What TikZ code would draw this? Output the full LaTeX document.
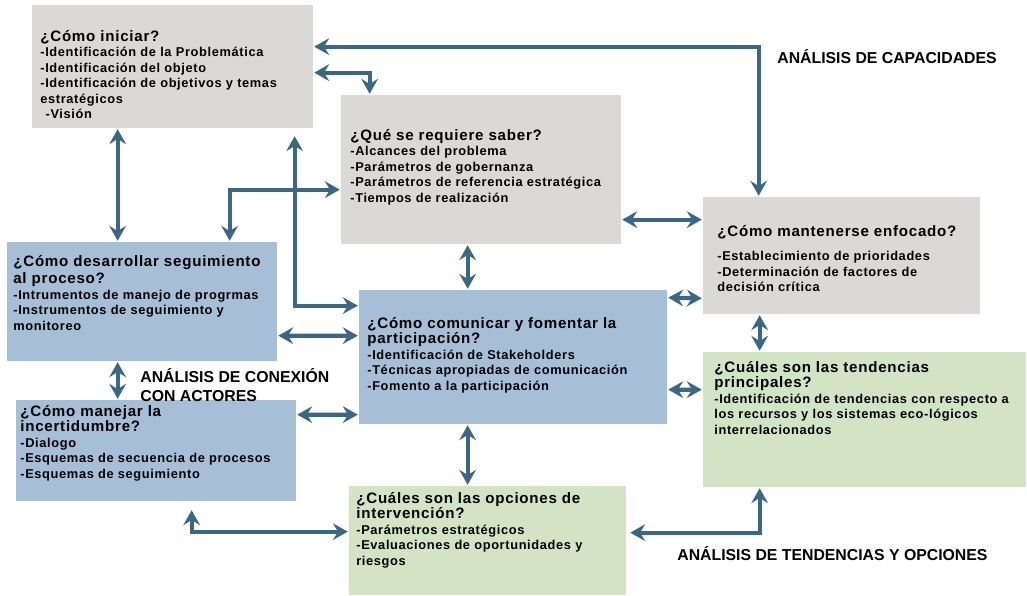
\documentclass[tikz,border=0pt]{standalone}
\usepackage{fontspec}
\setmainfont{Liberation Sans}
\newfontfamily\bodyfont[LetterSpace=5]{Liberation Sans}
\newfontfamily\titlefont[LetterSpace=5]{Liberation Sans}
\usetikzlibrary{arrows.meta,positioning,calc,fit}
\definecolor{boxgray}{HTML}{DAD9D6}
\definecolor{boxblue}{HTML}{A7BFD6}
\definecolor{boxgreen}{HTML}{D3E4C5}
\definecolor{linkblue}{HTML}{3A6783}
\newcommand{\ttl}[1]{{\titlefont\bfseries\fontsize{8.6}{9.2}\selectfont #1}}

\begin{document}
\begin{tikzpicture}[x=0.02cm,y=-0.02cm,
    >={Stealth[length=8.5pt,width=9.5pt,inset=3pt]},shorten >=0.5pt,shorten <=0.5pt,
    box/.style={rectangle,inner sep=0pt,draw=none},
    txt/.style={anchor=north west,align=left,inner sep=0pt,
        font=\bodyfont\bfseries\fontsize{7.3}{8.8}\selectfont},
    lbl/.style={inner sep=0pt,font=\bfseries\fontsize{9}{11}\selectfont},
    link/.style={<->,draw=linkblue,line width=2.4pt}]
  \useasboundingbox (0,0) rectangle (1027,595);

  % cajas
  \node[box,fill=boxgray,fit={(32,5) (313,128)}]     (ini) {};
  \node[box,fill=boxgray,fit={(341,95) (621,244)}]   (req) {};
  \node[box,fill=boxgray,fit={(703,197) (980,314)}]  (foc) {};
  \node[box,fill=boxblue,fit={(7,242) (277,361)}]    (seg) {};
  \node[box,fill=boxblue,fit={(359,290) (667,424)}]  (com) {};
  \node[box,fill=boxgreen,fit={(703,352) (1026,487)}] (ten) {};
  \node[box,fill=boxblue,fit={(16,400) (296,501)}]   (inc) {};
  \node[box,fill=boxgreen,fit={(349,486) (626,595)}] (opc) {};

  % textos
  \node[txt] (ini-t) at (40,30) {\ttl{¿Cómo iniciar?}\\
    -Identificación de la Problemática\\
    -Identificación del objeto\\
    -Identificación de objetivos y temas\\
    estratégicos\\
    \hspace{3pt}-Visión};
  \node[txt] (req-t) at (350,129) {\ttl{¿Qué se requiere saber?}\\
    -Alcances del problema\\
    -Parámetros de gobernanza\\
    -Parámetros de referencia estratégica\\
    -Tiempos de realización};
  \node[txt] (foc-t) at (717,225) {\ttl{¿Cómo mantenerse enfocado?}\\[5pt]
    -Establecimiento de prioridades\\
    -Determinación de factores de\\
    decisión crítica};
  \node[txt] (seg-t) at (13,255) {\ttl{¿Cómo desarrollar seguimiento}\\[1pt]
    \ttl{al proceso?}\\
    -Intrumentos de manejo de progrmas\\
    -Instrumentos de seguimiento y\\
    monitoreo};
  \node[txt] (com-t) at (367,317) {\ttl{¿Cómo comunicar y fomentar la}\\
    \ttl{participación?}\\
    -Identificación de Stakeholders\\
    -Técnicas apropiadas de comunicación\\
    -Fomento a la participación};
  \node[txt] (ten-t) at (714,361) {\ttl{¿Cuáles son las tendencias}\\
    \ttl{principales?}\\
    -Identificación de tendencias con respecto a\\
    los recursos y los sistemas eco-lógicos\\
    interrelacionados};
  \node[txt] (inc-t) at (20,405) {\ttl{¿Cómo manejar la}\\
    \ttl{incertidumbre?}\\
    -Dialogo\\
    -Esquemas de secuencia de procesos\\
    -Esquemas de seguimiento};
  \node[txt] (opc-t) at (356,492) {\ttl{¿Cuáles son las opciones de}\\
    \ttl{intervención?}\\
    -Parámetros estratégicos\\
    -Evaluaciones de oportunidades y\\
    riesgos};

  % etiquetas
  \node[lbl,anchor=west] (capac) at (777,57) {ANÁLISIS DE CAPACIDADES};
  \node[lbl,anchor=north west,align=left] (conex) at (140,368)
    {ANÁLISIS DE CONEXIÓN\\CON ACTORES};
  \node[lbl,anchor=west] (tendop) at (677,554) {ANÁLISIS DE TENDENCIAS Y OPCIONES};

  % conexiones
  \draw[link] ($(ini.north east)+(0,42)$) -| ($(foc.north west)+(56,0)$);
  \draw[link] ($(ini.north east)+(0,68)$) -| ($(req.north west)+(29,0)$);
  \draw[link] ($(ini.south west)+(86,0)$) -- ($(seg.north west)+(111,0)$);
  \draw[link] ($(ini.south west)+(263,7)$) |- ($(com.north west)+(0,16)$);
  \draw[link] ($(seg.north west)+(223,0)$) |- ($(req.north west)+(0,95)$);
  \draw[link] ($(req.north east)+(0,125)$) -- ($(foc.north west)+(0,23)$);
  \draw[link] ($(req.south west)+(127,0)$) -- ($(com.north west)+(109,0)$);
  \draw[link] ($(com.north east)+(0,8)$) -- ($(foc.south west)+(0,-16)$);
  \draw[link] ($(foc.south west)+(57,0)$) -- ($(ten.north west)+(57,0)$);
  \draw[link] ($(com.north east)+(0,100)$) -- ($(ten.north west)+(0,38)$);
  \draw[link] ($(seg.north east)+(0,94)$) -- ($(com.north west)+(0,46)$);
  \draw[link] ($(seg.south west)+(111,0)$) -- ($(inc.north west)+(102,0)$);
  \draw[link] ($(inc.north east)+(0,15)$) -- ($(com.north west)+(0,125)$);
  \draw[link] ($(inc.south west)+(176,8)$) |- ($(opc.north west)+(0,46)$);
  \draw[link] ($(com.south west)+(109,0)$) -- ($(opc.north west)+(119,0)$);
  \draw[link] ($(opc.north east)+(3,47)$) -| ($(ten.south west)+(57,0)$);
\end{tikzpicture}
\end{document}
